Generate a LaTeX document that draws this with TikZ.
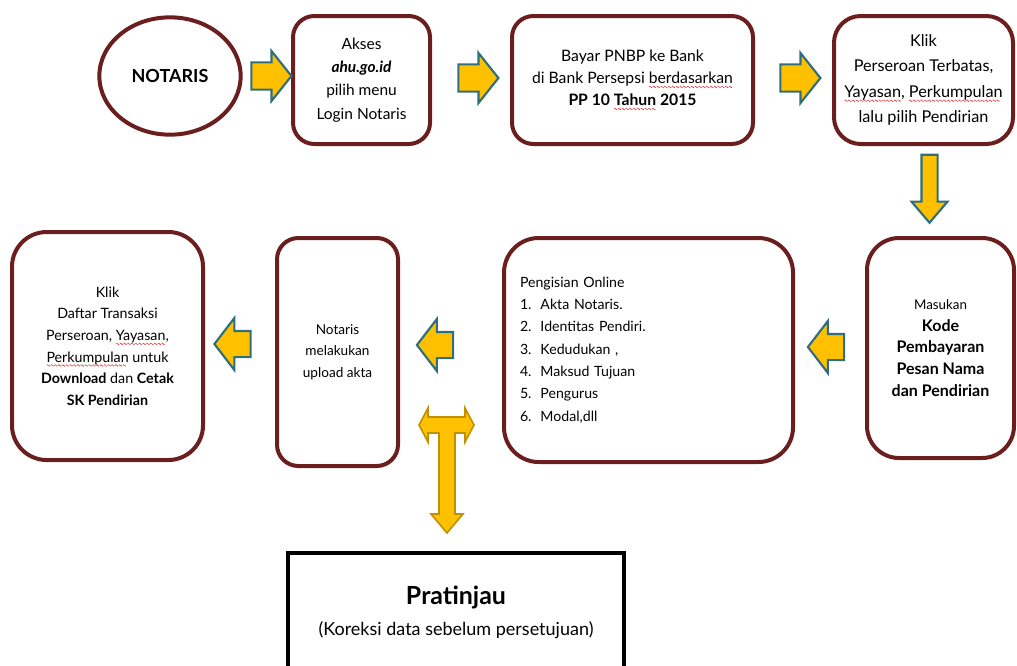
\documentclass[tikz,border=0pt]{standalone}
\usepackage{fontspec}
\setmainfont{Lato}
\usetikzlibrary{shapes.arrows, shapes.geometric, calc, positioning}

\definecolor{boxred}{HTML}{6B1E1E}
\definecolor{arrowfill}{HTML}{FFC000}
\definecolor{arrowline}{HTML}{2F6E7E}
\definecolor{goldline}{HTML}{BF9000}
\definecolor{squigred}{HTML}{E04848}

% one period of the red wavy underline
\newsavebox{\wavebox}
\sbox{\wavebox}{\begin{pgfpicture}
    \pgfsetbaseline{0pt}
    \pgfsetlinewidth{0.45pt}
    \pgfsetstrokecolor{squigred}
    \pgfpathmoveto{\pgfpoint{0pt}{0pt}}
    \pgfpathlineto{\pgfpoint{0.6pt}{0.6pt}}
    \pgfpathlineto{\pgfpoint{1.8pt}{-0.6pt}}
    \pgfpathlineto{\pgfpoint{2.4pt}{0pt}}
    \pgfusepath{stroke}
\end{pgfpicture}}
\newcommand{\squig}[1]{\setbox0\hbox{#1}\rlap{\raisebox{-2.6pt}{\hbox to\wd0{\leaders\copy\wavebox\hfill}}}\box0\relax}

\tikzset{
    stepbox/.style={draw=boxred, line width=3pt, rounded corners=16pt, align=center, inner sep=2pt},
    rightflow/.style={single arrow, draw=arrowline, fill=arrowfill, line width=1.6pt, inner sep=9.4pt, minimum height=30pt, single arrow head extend=8.6pt, single arrow tip angle=103, single arrow head indent=0pt},
    leftflow/.style={rightflow, shape border rotate=180, minimum height=27pt, inner sep=9pt, single arrow head extend=9.75pt, single arrow tip angle=105},
    downflow/.style={rightflow, shape border rotate=270, minimum height=51pt, inner sep=5.25pt, single arrow head extend=7.5pt, single arrow tip angle=81}
}

\begin{document}
\begin{tikzpicture}[x=0.75pt, y=-0.75pt]
    \useasboundingbox (0,0) rectangle (1017,665);

    % top row
    \node[stepbox, ellipse, minimum width=106pt, minimum height=88pt, font=\fontsize{13.5}{15}\selectfont\bfseries] (notaris) at (170, 76) {NOTARIS};
    \node[stepbox, minimum width=102.75pt, minimum height=96pt, font=\fontsize{11.6}{17.5}\selectfont] (akses) at (361.5, 80) {Akses\\ \textbf{\textit{ahu.go.id}}\\ pilih menu\\ Login Notaris};
    \node[stepbox, minimum width=180.75pt, minimum height=96pt, font=\fontsize{11.8}{16.5}\selectfont] (bayar) at (632.5, 80) {Bayar PNBP ke Bank\\ di Bank Persepsi \squig{berdasarkan}\\ \textbf{PP 10 \squig{Tahun} 2015}};
    \node[stepbox, minimum width=134.25pt, minimum height=96pt, rounded corners=20pt, font=\fontsize{12.2}{19}\selectfont] (pilih) at (923.5, 80) {Klik\\ Perseroan Terbatas,\\ \squig{Yayasan,} \squig{Perkumpulan}\\ lalu pilih Pendirian};

    \node[rightflow] (a1) at (266, 76) {};
    \node[rightflow] (a2) at (473, 78) {};
    \node[rightflow] (a3) at (795, 78) {};
    \node[downflow] (a4) at (929.5, 184) {};

    % bottom row
    \node[stepbox, minimum width=110.25pt, minimum height=165pt, rounded corners=24pt, font=\fontsize{12}{16.2}\selectfont] (kode) at (940.5, 348) {{\fontsize{10}{12}\selectfont Masukan}\\ \textbf{Kode}\\ \textbf{Pembayaran}\\ \textbf{Pesan Nama}\\ \textbf{dan Pendirian}};
    \node[stepbox, minimum width=216.75pt, minimum height=168pt, rounded corners=26pt, align=left, inner xsep=12pt, text width=192.75pt, font=\fontsize{10.6}{16.7}\selectfont] (isian) at (648.5, 350) {Pengisian Online\\
        \makebox[1.45em][l]{1.}Akta Notaris.\\
        \makebox[1.45em][l]{2.}Identitas Pendiri.\\
        \makebox[1.45em][l]{3.}Kedudukan ,\\
        \makebox[1.45em][l]{4.}Maksud Tujuan\\
        \makebox[1.45em][l]{5.}Pengurus\\
        \makebox[1.45em][l]{6.}Modal,dll};
    \node[stepbox, minimum width=90.75pt, minimum height=171pt, font=\fontsize{10.2}{15.9}\selectfont] (upload) at (337.5, 352) {Notaris\\ melakukan\\ upload akta};
    \node[stepbox, minimum width=143.25pt, minimum height=171pt, rounded corners=26pt, font=\fontsize{10.7}{16.2}\selectfont] (cetak) at (107.5, 346) {Klik\\ Daftar Transaksi\\ Perseroan, \squig{Yayasan,}\\ \squig{Perkumpulan} untuk\\ \textbf{Download} dan \textbf{Cetak}\\ \textbf{SK Pendirian}};

    \node[leftflow] (a5) at (831, 347) {};
    \node[leftflow] (a6) at (440, 345) {};
    \node[leftflow] (a7) at (237.5, 344) {};

    % preview step and its double arrow
    \draw[fill=arrowfill, draw=goldline, line width=1.2pt, line join=miter]
        (419,425) -- (428,408) -- (428,417) -- (465,417) -- (465,408) -- (474,425) -- (465,442) -- (465,433)
        -- (455,433) -- (455,514) -- (463,514) -- (447,533) -- (431,514) -- (439,514) -- (439,433)
        -- (428,433) -- (428,442) -- cycle;
    \node[draw=black, line width=3pt, anchor=north, minimum width=252pt, inner ysep=25pt, align=center, font=\fontsize{13.5}{18}\selectfont] (pratinjau) at (456, 551) {{\fontsize{18.7}{22}\selectfont\bfseries Pratinjau}\\[5pt] (Koreksi data sebelum persetujuan)};
\end{tikzpicture}
\end{document}
